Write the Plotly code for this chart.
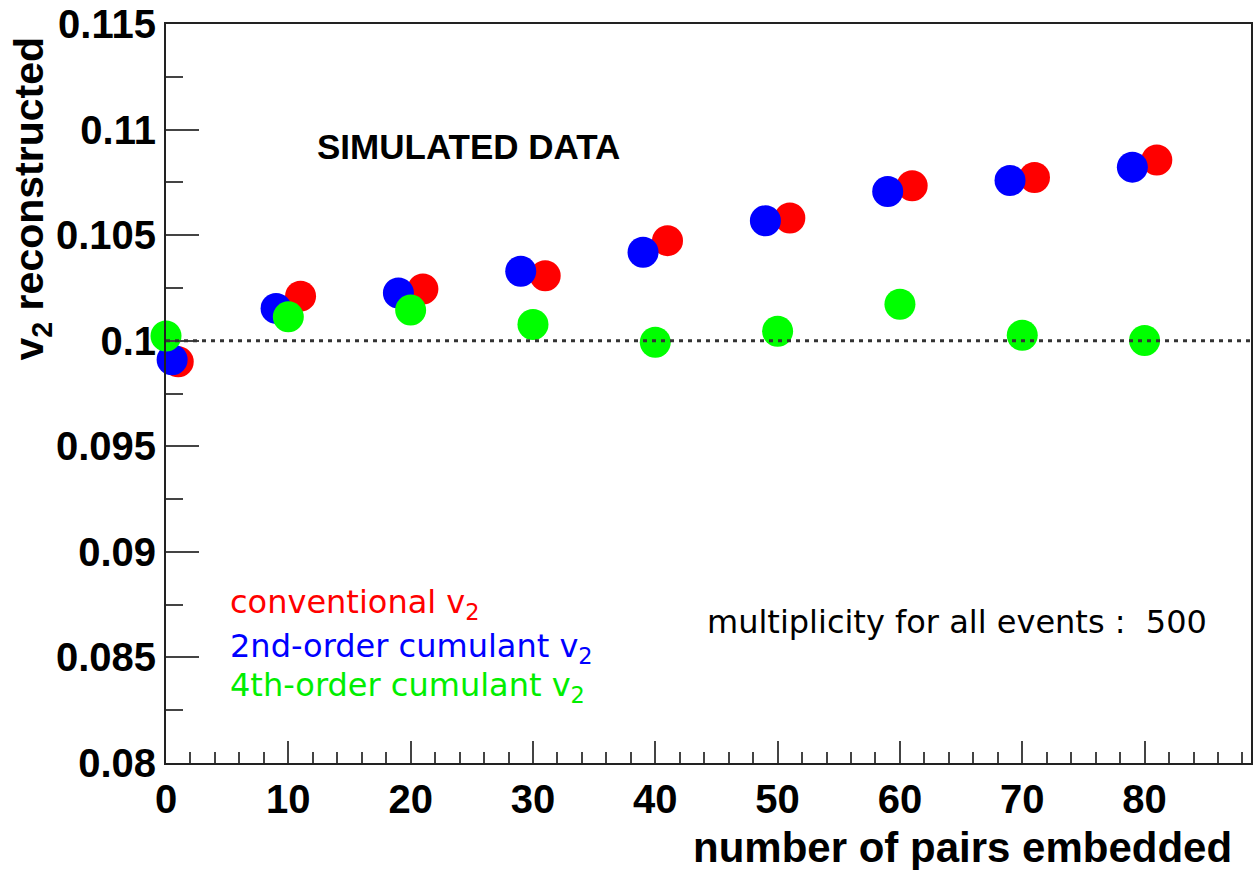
import plotly.graph_objects as go

# ---- data ----
conv_x = [1, 11, 21, 31, 41, 51, 61, 71, 81]
conv_y = [0.0990, 0.10211, 0.10245, 0.10308, 0.10474, 0.10581, 0.10734, 0.10773, 0.10856]

cum2_x = [0.5, 9, 19, 29, 39, 49, 59, 69, 79]
cum2_y = [0.0991, 0.10153, 0.10226, 0.10329, 0.10419, 0.10568, 0.10707, 0.10759, 0.10822]

cum4_x = [0, 10, 20, 30, 40, 50, 60, 70, 80]
cum4_y = [0.10022, 0.10113, 0.10145, 0.10077, 0.09993, 0.10045, 0.10173, 0.10026, 0.10001]

x_ticks = [0, 10, 20, 30, 40, 50, 60, 70, 80]
y_ticks = [0.08, 0.085, 0.09, 0.095, 0.1, 0.105, 0.11, 0.115]
y_tick_text = ["0.08", "0.085", "0.09", "0.095", "0.1", "0.105", "0.11", "0.115"]
reference_v2 = 0.1

BOLD = "Liberation Sans"
REG = "DejaVu Sans"

fig = go.Figure()
for xs, ys, col in [(conv_x, conv_y, "#ff0000"),
                    (cum2_x, cum2_y, "#0000ff"),
                    (cum4_x, cum4_y, "#00ff00")]:
    fig.add_trace(go.Scatter(x=xs, y=ys, mode="markers",
                             marker=dict(size=31, color=col, line=dict(width=0)),
                             cliponaxis=False, showlegend=False))

fig.add_shape(type="line", xref="paper", x0=0, x1=1, yref="y",
              y0=reference_v2, y1=reference_v2, layer="above",
              line=dict(color="#333333", width=3, dash="4px,5px"))

annos = [
    dict(text="SIMULATED DATA", x=12.16, y=0.10919, xanchor="left", yanchor="middle",
         font=dict(family=BOLD, size=35, color="black", weight="bold")),
    dict(text="conventional v<sub>2</sub>", x=5.06, y=0.08751, xanchor="left", yanchor="middle",
         font=dict(family=REG, size=32, color="#ff0000")),
    dict(text="2nd-order cumulant v<sub>2</sub>", x=5.06, y=0.08543, xanchor="left", yanchor="middle",
         font=dict(family=REG, size=32, color="#0000ff")),
    dict(text="4th-order cumulant v<sub>2</sub>", x=5.06, y=0.08359, xanchor="left", yanchor="middle",
         font=dict(family=REG, size=32, color="#00ee00")),
    dict(text="multiplicity for all events :  500", x=44.1, y=0.08666, xanchor="left", yanchor="middle",
         font=dict(family=REG, size=32, color="black")),
]
for a in annos:
    fig.add_annotation(xref="x", yref="y", showarrow=False, **a)

fig.add_annotation(text="number of pairs embedded", xref="paper", yref="paper",
                   x=0.9844, y=-0.1147, xanchor="right", yanchor="middle", showarrow=False,
                   font=dict(family=BOLD, size=42, color="black", weight="bold"))
fig.add_annotation(text="v<sub>2</sub> reconstructed", xref="paper", yref="paper",
                   x=-0.1235, y=0.7638, xanchor="center", yanchor="middle", showarrow=False,
                   textangle=-90,
                   font=dict(family=BOLD, size=41, color="black", weight="bold"))

fig.update_xaxes(range=[0, 88.7], tickvals=x_ticks, ticks="inside", ticklen=22,
                 tickwidth=2, tickcolor="#444", showline=True, linecolor="#222",
                 linewidth=2, mirror=True, showgrid=False, zeroline=False,
                 tickfont=dict(family=BOLD, size=40, color="black", weight="bold"),
                 minor=dict(dtick=2, ticks="inside", ticklen=11, tickwidth=2, tickcolor="#444"))
fig.update_yaxes(range=[0.08, 0.115], tickvals=y_ticks, ticktext=y_tick_text,
                 ticks="inside", ticklen=33, tickwidth=2, tickcolor="#444",
                 showline=True, linecolor="#222", linewidth=2, mirror=True,
                 showgrid=False, zeroline=False,
                 tickfont=dict(family=BOLD, size=40, color="black", weight="bold"),
                 minor=dict(dtick=0.0025, tick0=0.08, ticks="inside", ticklen=17,
                            tickwidth=2, tickcolor="#444"))

fig.update_layout(width=1255, height=870, autosize=False,
                  margin=dict(l=166, r=2, t=22, b=107),
                  paper_bgcolor="white", plot_bgcolor="white")

fig.write_html("out.html")
